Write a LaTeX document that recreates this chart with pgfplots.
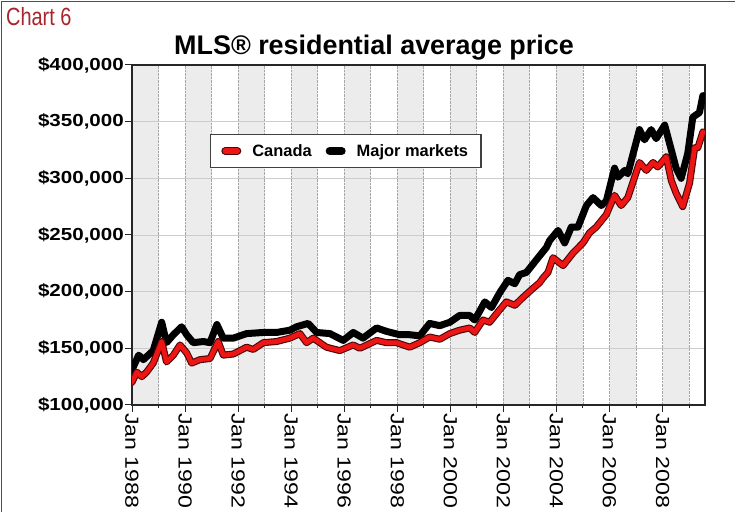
\documentclass[border=0pt]{standalone}
\usepackage{pgfplots}
\pgfplotsset{compat=1.18}
\usepackage{fontspec}
\setmainfont{Liberation Sans}
\definecolor{chartred}{HTML}{A8262B}
\definecolor{band}{HTML}{ECECEC}
\definecolor{linered}{HTML}{EE1515}
\definecolor{lineoutline}{HTML}{4A0606}
\pgfplotsset{
  redleg/.style={legend image code/.code={
    \draw[lineoutline, line width=8bp, line cap=round] (0bp,0bp) -- (12bp,0bp);
    \draw[linered, line width=5.5bp, line cap=round] (0bp,0bp) -- (12bp,0bp);}},
  blackleg/.style={legend image code/.code={
    \draw[black, line width=8bp, line cap=round] (0bp,0bp) -- (12bp,0bp);}},
  bandst/.style={fill=band, draw=none, forget plot, on layer=axis background},
}
\pgfplotstableread{
year canada
1988.00 120
1988.18 129
1988.37 125
1988.55 129
1988.80 137
1989.12 156
1989.30 138
1989.56 144
1989.81 153
1990.06 146
1990.25 137
1990.56 140
1990.94 141
1991.25 156
1991.44 144
1991.82 145
1992.32 151
1992.57 149
1992.95 155
1993.45 156
1993.95 159
1994.33 163
1994.58 155
1994.83 159
1995.33 151
1995.83 148
1996.34 153
1996.59 150
1997.22 157
1997.59 155
1997.97 155
1998.47 151
1998.85 155
1999.22 160
1999.60 158
1999.98 163
2000.35 166
2000.73 168
2000.92 164
2001.23 175
2001.48 173
2001.86 184
2002.11 191
2002.43 188
2002.74 195
2003.12 203
2003.37 208
2003.49 212
2003.68 217
2003.87 230
2004.25 223
2004.62 234
2005.00 243
2005.25 252
2005.50 257
2005.88 268
2006.19 285
2006.44 276
2006.69 283
2007.13 314
2007.39 307
2007.64 314
2007.82 310
2008.14 319
2008.33 298
2008.51 287
2008.76 275
2009.02 296
2009.21 327
2009.33 327
2009.52 341
}\canadatable
\pgfplotstableread{
year major
1988.00 131
1988.25 144
1988.43 140
1988.80 148
1989.12 173
1989.30 155
1989.56 162
1989.87 169
1990.06 162
1990.31 155
1990.69 156
1990.94 155
1991.20 171
1991.44 159
1991.82 159
1992.32 163
1992.95 164
1993.45 164
1993.95 166
1994.20 169
1994.64 172
1994.96 164
1995.46 163
1995.96 157
1996.34 164
1996.71 159
1997.22 168
1997.59 165
1998.09 162
1998.47 162
1998.85 161
1999.22 172
1999.60 170
1999.98 173
2000.35 179
2000.73 179
2000.92 175
2001.30 191
2001.55 186
2001.86 199
2002.17 210
2002.43 207
2002.61 215
2002.87 217
2003.24 228
2003.62 239
2003.74 245
2004.06 254
2004.31 243
2004.56 257
2004.81 257
2005.13 276
2005.38 283
2005.69 276
2005.88 280
2006.19 309
2006.32 301
2006.57 307
2006.69 304
2007.13 343
2007.32 334
2007.57 343
2007.76 335
2008.08 347
2008.33 325
2008.51 309
2008.70 300
2008.95 322
2009.14 354
2009.39 358
2009.52 373
}\majortable
\begin{document}
\begin{tikzpicture}
\draw[chartred, line width=1.5bp] (1.5bp,0bp) -- (1.5bp,510.5bp) -- (735bp,510.5bp);
\node[anchor=base west, text=chartred, font=\fontsize{25}{25}\selectfont, inner sep=0pt] at (6bp,486bp) {\scalebox{0.8}[1]{Chart 6}};
\node[anchor=base, font=\bfseries\fontsize{27}{27}\selectfont, inner sep=0pt] at (374bp,457bp) {MLS® residential average price};
\begin{axis}[
  set layers=standard,
  at={(132bp,107bp)}, anchor=south west,
  scale only axis, width=573bp, height=340bp,
  xmin=1988, xmax=2009.6, ymin=100, ymax=400,
  axis line style={line width=1.4bp, black!85},
  xtick={1988,1990,...,2008},
  minor xtick={1989,1991,...,2009},
  xticklabels={
    {\scalebox{1.22}[1]{Jan 1988}},{\scalebox{1.22}[1]{Jan 1990}},{\scalebox{1.22}[1]{Jan 1992}},
    {\scalebox{1.22}[1]{Jan 1994}},{\scalebox{1.22}[1]{Jan 1996}},{\scalebox{1.22}[1]{Jan 1998}},
    {\scalebox{1.22}[1]{Jan 2000}},{\scalebox{1.22}[1]{Jan 2002}},{\scalebox{1.22}[1]{Jan 2004}},
    {\scalebox{1.22}[1]{Jan 2006}},{\scalebox{1.22}[1]{Jan 2008}}},
  xticklabel style={rotate=-90, anchor=west, font=\fontsize{19}{19}\selectfont, inner sep=1bp},
  ytick={100,150,...,400},
  yticklabels={
    {\scalebox{1.18}[1]{\$100,000}},{\scalebox{1.18}[1]{\$150,000}},{\scalebox{1.18}[1]{\$200,000}},
    {\scalebox{1.18}[1]{\$250,000}},{\scalebox{1.18}[1]{\$300,000}},{\scalebox{1.18}[1]{\$350,000}},
    {\scalebox{1.18}[1]{\$400,000}}},
  yticklabel style={font=\bfseries\fontsize{17.5}{17.5}\selectfont, inner sep=1bp},
  tick align=outside,
  major tick length=7bp, minor tick length=3bp,
  tick style={black!85, line width=1bp},
  xtick pos=bottom, ytick pos=left,
  xmajorgrids, xminorgrids, ymajorgrids,
  major x grid style={densely dotted, black!35, line width=0.9bp},
  minor x grid style={densely dotted, black!35, line width=0.9bp},
  major y grid style={black!20, line width=0.9bp},
  legend columns=2,
  legend style={at={(0.373,0.747)}, anchor=center, draw=black!75, line width=1.4bp,
    font=\bfseries\fontsize{16.5}{16.5}\selectfont, inner xsep=11bp, inner ysep=8bp,
    /tikz/every odd column/.append style={column sep=9bp},
    /tikz/every even column/.append style={column sep=12bp}},
  legend cell align=left,
]
\addplot[bandst] coordinates {(1988,100) (1989,100) (1989,400) (1988,400)} -- cycle;
\addplot[bandst] coordinates {(1990,100) (1991,100) (1991,400) (1990,400)} -- cycle;
\addplot[bandst] coordinates {(1992,100) (1993,100) (1993,400) (1992,400)} -- cycle;
\addplot[bandst] coordinates {(1994,100) (1995,100) (1995,400) (1994,400)} -- cycle;
\addplot[bandst] coordinates {(1996,100) (1997,100) (1997,400) (1996,400)} -- cycle;
\addplot[bandst] coordinates {(1998,100) (1999,100) (1999,400) (1998,400)} -- cycle;
\addplot[bandst] coordinates {(2000,100) (2001,100) (2001,400) (2000,400)} -- cycle;
\addplot[bandst] coordinates {(2002,100) (2003,100) (2003,400) (2002,400)} -- cycle;
\addplot[bandst] coordinates {(2004,100) (2005,100) (2005,400) (2004,400)} -- cycle;
\addplot[bandst] coordinates {(2006,100) (2007,100) (2007,400) (2006,400)} -- cycle;
\addplot[bandst] coordinates {(2008,100) (2009,100) (2009,400) (2008,400)} -- cycle;
\addplot[black, line width=7bp, line join=round, line cap=round, forget plot] table[x=year, y=major] {\majortable};
\addplot[lineoutline, line width=7bp, line join=round, line cap=round, forget plot] table[x=year, y=canada] {\canadatable};
\addplot[linered, line width=4.8bp, line join=round, line cap=round, forget plot] table[x=year, y=canada] {\canadatable};
\addlegendimage{redleg}
\addlegendentry{Canada}
\addlegendimage{blackleg}
\addlegendentry{Major markets}
\end{axis}
\pgfresetboundingbox
\useasboundingbox (0bp,0bp) rectangle (735bp,512bp);
\end{tikzpicture}
\end{document}
